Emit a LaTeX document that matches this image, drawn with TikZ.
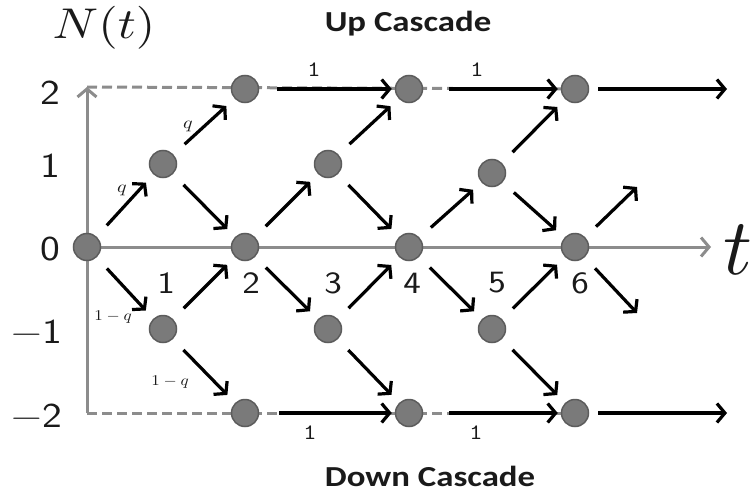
\documentclass[tikz,border=0pt]{standalone}
\usepackage{fontspec}
\usepackage{graphicx}
\usetikzlibrary{arrows.meta,backgrounds}
\newfontfamily\cascfont{Carlito}
\definecolor{axisgray}{HTML}{8C8C8C}
\definecolor{nodefill}{HTML}{7A7A7A}
\definecolor{nodedraw}{HTML}{5C5C5C}
\definecolor{txtdark}{HTML}{1A1A1A}
\newcommand{\hs}[1]{\scalebox{1.2}[1]{#1}}
\tikzset{
  dot/.style={circle, fill=nodefill, draw=nodedraw, line width=1.5pt, minimum size=27pt, inner sep=0pt},
  trans/.style={draw=black, line width=3.2pt, -{Straight Barb[length=8pt,width=19pt]}, shorten <=15pt, shorten >=11pt},
  flat/.style={draw=black, line width=3.2pt, -{Straight Barb[length=8pt,width=19pt]}},
  axisline/.style={draw=axisgray, line width=3pt},
  axisarrow/.style={axisline, -{Straight Barb[length=8pt,width=19pt]}},
  dashline/.style={axisline, dash pattern=on 10pt off 5pt},
  ylbl/.style={font=\fontsize{35}{40}\selectfont\sffamily, inner sep=0pt, text=txtdark},
  tlbl/.style={font=\fontsize{31}{36}\selectfont\sffamily, inner sep=0pt, text=txtdark},
  problbl/.style={font=\fontsize{10}{12}\selectfont, inner sep=0pt, text=txtdark},
  onelbl/.style={font=\fontsize{22}{24}\selectfont\ttfamily, inner sep=0pt, text=txtdark},
  casclbl/.style={font=\fontsize{29}{32}\selectfont\cascfont\bfseries, inner sep=0pt, text=txtdark},
}
\begin{document}
\begin{tikzpicture}[x=1pt,y=-1pt]
\useasboundingbox (0,0) rectangle (754,495);
% state nodes
\node[dot] (n00) at (87,247) {};
\node[dot] (n11) at (163,164) {};
\node[dot] (n1m) at (163,329) {};
\node[dot] (n22) at (245,89) {};
\node[dot] (n20) at (245,247) {};
\node[dot] (n2m) at (245,413) {};
\node[dot] (n31) at (328,164) {};
\node[dot] (n3m) at (328,329) {};
\node[dot] (n42) at (409,89) {};
\node[dot] (n40) at (409,247) {};
\node[dot] (n4m) at (409,413) {};
\node[dot] (n51) at (492,173) {};
\node[dot] (n5m) at (492,329) {};
\node[dot] (n62) at (575,89) {};
\node[dot] (n60) at (575,247) {};
\node[dot] (n6m) at (575,413) {};
% free ends
\coordinate (ytop) at (87,87);
\coordinate (ybot) at (87,413);
\coordinate (xend) at (711,247);
\coordinate (uend) at (727,89);
\coordinate (dend) at (727,413);
\coordinate (f1) at (637,187);
\coordinate (f2) at (637,313);
% axes and dashed levels behind
\begin{scope}[on background layer]
  \draw[axisarrow] (ybot) -- (ytop);
  \draw[axisarrow] (n00.center) -- (xend);
  \draw[dashline] (ytop) -- (n62.center);
  \draw[dashline] (ybot) -- (n6m.center);
\end{scope}
% cascades
\draw[flat, shorten <=18pt, shorten >=3pt] (n22) -- (n42);
\draw[flat, shorten <=26pt, shorten >=3pt] (n42) -- (n62);
\draw[flat, shorten <=9pt] (n62) -- (uend);
\draw[flat, shorten <=20pt, shorten >=3pt] (n2m) -- (n4m);
\draw[flat, shorten <=26pt, shorten >=3pt] (n4m) -- (n6m);
\draw[flat, shorten <=9pt] (n6m) -- (dend);
% transitions
\draw[trans] (n00) -- (n11);
\draw[trans] (n00) -- (n1m);
\draw[trans] (n11) -- (n22);
\draw[trans] (n11) -- (n20);
\draw[trans] (n1m) -- (n20);
\draw[trans] (n1m) -- (n2m);
\draw[trans] (n20) -- (n31);
\draw[trans] (n20) -- (n3m);
\draw[trans] (n31) -- (n42);
\draw[trans] (n31) -- (n40);
\draw[trans] (n3m) -- (n40);
\draw[trans] (n3m) -- (n4m);
\draw[trans] (n40) -- (n51);
\draw[trans] (n40) -- (n5m);
\draw[trans] (n51) -- (n62);
\draw[trans] (n51) -- (n60);
\draw[trans] (n5m) -- (n60);
\draw[trans] (n5m) -- (n6m);
\draw[trans, shorten >=0pt] (n60) -- (f1);
\draw[trans, shorten >=0pt] (n60) -- (f2);
% probability labels
\node[problbl] (pq1) at (122,190) {\scalebox{2.0}[1.7]{$q$}};
\node[problbl] (pq2) at (188,126) {\scalebox{2.0}[1.7]{$q$}};
\node[problbl] (pm1) at (113,317) {\scalebox{1.7}[1.5]{$1-q$}};
\node[problbl] (pm2) at (170,382) {\scalebox{1.7}[1.5]{$1-q$}};
\node[onelbl] (u1) at (314,70) {\hs{1}};
\node[onelbl] (u2) at (477,70) {\hs{1}};
\node[onelbl] (d1) at (310,433) {\hs{1}};
\node[onelbl] (d2) at (476,433) {\hs{1}};
% axis labels
\node[ylbl] (y2) at (50,93) {\hs{2}};
\node[ylbl] (y1) at (50,166) {\hs{1}};
\node[ylbl] (y0) at (50,249) {\hs{0}};
\node[ylbl] (ym1) at (37,332) {\hs{−1}};
\node[ylbl] (ym2) at (37,416) {\hs{−2}};
\node[tlbl] (t1) at (166,283) {\hs{1}};
\node[tlbl] (t2) at (251,283) {\hs{2}};
\node[tlbl] (t3) at (333,283) {\hs{3}};
\node[tlbl] (t4) at (412,283) {\hs{4}};
\node[tlbl] (t5) at (497,283) {\hs{5}};
\node[tlbl] (t6) at (580,283) {\hs{6}};
\node[inner sep=0pt, font=\fontsize{10}{12}\selectfont, text=txtdark] (Nt) at (104,28) {\scalebox{5.0}[4.3]{$N(t)$}};
\node[inner sep=0pt, font=\fontsize{10}{12}\selectfont, text=txtdark, anchor=east] (tl) at (753,250) {\scalebox{8.0}{$t$}};
% titles
\node[casclbl] (up) at (408,24) {\hs{Up Cascade}};
\node[casclbl] (down) at (430,476) {\hs{Down Cascade}};
\end{tikzpicture}
\end{document}
